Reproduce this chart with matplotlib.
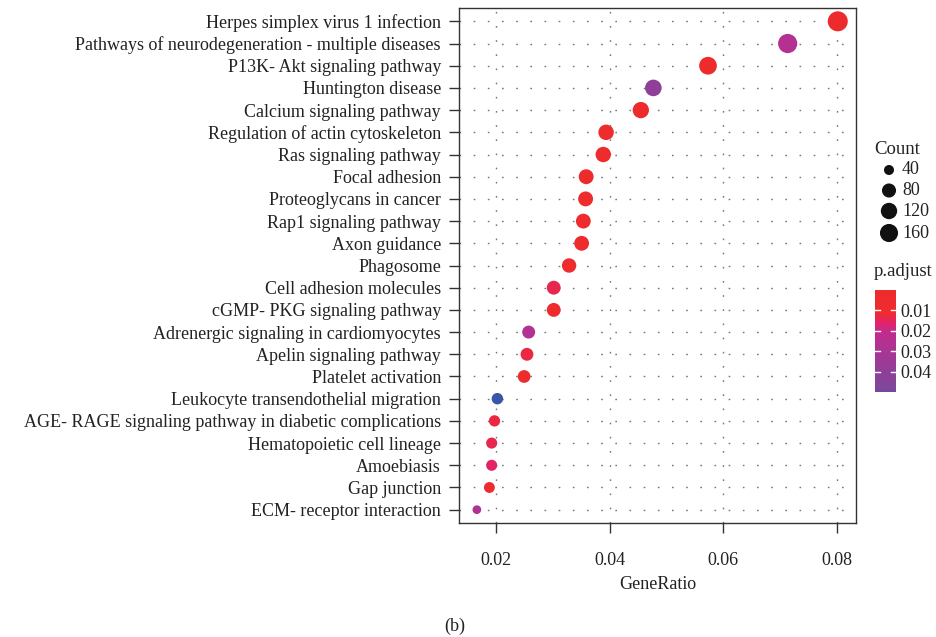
import numpy as np
import matplotlib
matplotlib.use('Agg')
import matplotlib.pyplot as plt
from matplotlib.colors import LinearSegmentedColormap, Normalize

plt.rcParams['font.family'] = ['Liberation Serif', 'DejaVu Serif']

pathways = ['Herpes simplex virus 1 infection',
            'Pathways of neurodegeneration - multiple diseases',
            'P13K- Akt signaling pathway',
            'Huntington disease',
            'Calcium signaling pathway',
            'Regulation of actin cytoskeleton',
            'Ras signaling pathway',
            'Focal adhesion',
            'Proteoglycans in cancer',
            'Rap1 signaling pathway',
            'Axon guidance',
            'Phagosome',
            'Cell adhesion molecules',
            'cGMP- PKG signaling pathway',
            'Adrenergic signaling in cardiomyocytes',
            'Apelin signaling pathway',
            'Platelet activation',
            'Leukocyte transendothelial migration',
            'AGE- RAGE signaling pathway in diabetic complications',
            'Hematopoietic cell lineage',
            'Amoebiasis',
            'Gap junction',
            'ECM- receptor interaction']
gene_ratio = [0.0801, 0.0713, 0.0573, 0.0477, 0.0455, 0.0394, 0.0389, 0.0359,
              0.0358, 0.0354, 0.0351, 0.0329, 0.0302, 0.0302, 0.0258, 0.0255,
              0.0250, 0.0203, 0.0198, 0.0193, 0.0193, 0.0189, 0.0167]
counts = [168, 150, 120, 100, 95, 83, 82, 75, 75, 74, 74, 69, 63, 63, 54, 53,
          52, 43, 42, 41, 41, 40, 35]
p_adjust = [0.002, 0.026, 0.002, 0.040, 0.003, 0.004, 0.004, 0.003, 0.004,
            0.004, 0.005, 0.005, 0.014, 0.005, 0.027, 0.013, 0.005, 0.060,
            0.013, 0.014, 0.016, 0.006, 0.028]
legend_counts = [40, 80, 120, 160]
cbar_ticks = [0.01, 0.02, 0.03, 0.04]

dpi = 100
W, H = 936, 637
fig = plt.figure(figsize=(W / dpi, H / dpi), dpi=dpi)

cmap = LinearSegmentedColormap.from_list('padj', [
    (0.0, '#EE2B2B'), (0.19, '#EE2B30'), (0.27, '#E2236A'),
    (0.333, '#C42A8C'), (0.5, '#A93594'), (0.667, '#8F3F98'),
    (0.8, '#7E4699'), (1.0, '#3A55A5')])
norm = Normalize(vmin=0.0, vmax=0.06)

cmin, cmax = min(counts), max(counts)
def size_of(c):
    d_px = 8.7 + 11.3 * np.sqrt(np.clip((np.asarray(c, float) - cmin) / (cmax - cmin), 0, None))
    return (d_px * 72.0 / dpi) ** 2

fs = 13
tc = '#222222'

ax = fig.add_axes([459 / W, 1 - 523 / H, (856 - 459) / W, (523 - 8) / H])
n = len(pathways)
ypos = np.arange(n, 0, -1)

ax.set_xlim(0.01356, 0.0833)
ax.set_ylim(0.4, n + 0.6)
ax.set_xticks([0.02, 0.04, 0.06, 0.08])
ax.set_xticklabels(['0.02', '0.04', '0.06', '0.08'])
ax.set_yticks(ypos)
ax.set_yticklabels(pathways)
ax.grid(True, color='#777777', lw=1.0, linestyle=(0, (1.2, 9.0)))
ax.set_axisbelow(True)

sc = ax.scatter(gene_ratio, ypos, s=size_of(counts), c=p_adjust, cmap=cmap,
                norm=norm, edgecolors='none', zorder=3)

for sp in ax.spines.values():
    sp.set_color('#333333')
    sp.set_linewidth(1.0)
ax.tick_params(axis='both', colors='#333333', length=7, width=1.0,
               labelsize=fs, labelcolor=tc)
ax.tick_params(axis='y', pad=6)
ax.tick_params(axis='x', pad=14)
ax.set_xlabel('GeneRatio', fontsize=fs, color=tc, labelpad=5)

# Count legend
fig.text(874 / W, 1 - 150 / H, 'Count', fontsize=fs + 0.5, color=tc, va='center')
for yy, c in zip([170, 190.5, 211, 233], legend_counts):
    fig.text(902 / W, 1 - yy / H, str(c), fontsize=fs, color=tc, va='center')
lax = fig.add_axes([880 / W, 1 - 245 / H, 18 / W, 85 / H])
lax.set_xlim(0, 1)
lax.set_ylim(245, 160)
lax.scatter([0.5] * 4, [170, 190.5, 211, 233], s=size_of(legend_counts) * 0.85,
            color='#111111', edgecolors='none')
lax.axis('off')

# p.adjust colorbar
fig.text(874 / W, 1 - 271 / H, 'p.adjust', fontsize=fs + 0.5, color=tc, va='center')
cax = fig.add_axes([875 / W, 1 - 392 / H, 21 / W, (392 - 290) / H])
cb = fig.colorbar(sc, cax=cax, boundaries=np.linspace(0.0, 0.05, 256))
cb.outline.set_visible(False)
cb.set_ticks(cbar_ticks)
cb.set_ticklabels(['0.01', '0.02', '0.03', '0.04'])
cb.ax.tick_params(length=0, labelsize=fs, labelcolor=tc, pad=3)
cb.ax.invert_yaxis()
for t in cbar_ticks:
    cb.ax.plot([0, 0.22], [t, t], color='white', lw=1, transform=cb.ax.get_yaxis_transform())
    cb.ax.plot([0.78, 1], [t, t], color='white', lw=1, transform=cb.ax.get_yaxis_transform())

fig.text(455 / W, 1 - 626 / H, '(b)', fontsize=fs, color=tc, ha='center', va='center')

fig.savefig('out.png', dpi=dpi)
